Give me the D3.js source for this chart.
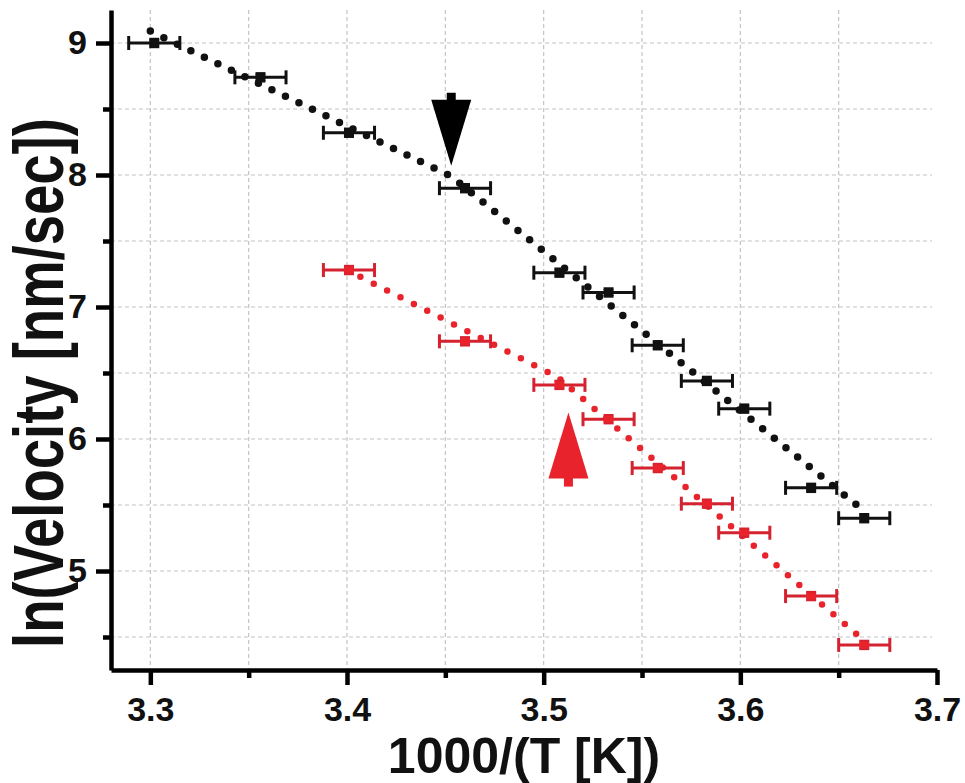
<!DOCTYPE html>
<html>
<head>
<meta charset="utf-8">
<script src="https://cdn.jsdelivr.net/npm/d3@7"></script>
<style>
  html, body { margin: 0; padding: 0; background: #fff; }
  svg { display: block; }
</style>
</head>
<body>
<svg id="chart" width="965" height="783"></svg>
<script>
// ---------------- data ----------------
const blackX = [3.302, 3.356, 3.401, 3.460, 3.508, 3.533, 3.558, 3.583, 3.602, 3.636, 3.663];
const blackY = [9.00, 8.74, 8.32, 7.90, 7.26, 7.11, 6.71, 6.44, 6.23, 5.63, 5.40];
const redX   = [3.401, 3.460, 3.508, 3.533, 3.558, 3.583, 3.602, 3.636, 3.663];
const redY   = [7.28, 6.74, 6.41, 6.15, 5.78, 5.51, 5.29, 4.81, 4.44];
const xErr = 0.013;
const yErr = 0.03;

// piecewise fit lines (dotted)
const blackFitX = [3.300, 3.453, 3.660];
const blackFitY = [9.09, 7.99, 5.49];
const redFitX   = [3.400, 3.507, 3.660];
const redFitY   = [7.28, 6.47, 4.51];

// break-point arrows
const arrowX    = [3.453, 3.5126];
const arrowTipY = [8.07, 6.20];
const arrowDir  = ["down", "up"];

// axes
const xMajorTicks = [3.3, 3.4, 3.5, 3.6, 3.7];
const xMinorTicks = [3.35, 3.45, 3.55, 3.65];
const yMajorTicks = [5, 6, 7, 8, 9];
const yMinorTicks = [4.5, 5.5, 6.5, 7.5, 8.5];
const xGrid = [3.3, 3.35, 3.4, 3.45, 3.5, 3.55, 3.6, 3.65];
const yGrid = [4.5, 5, 5.5, 6, 6.5, 7, 7.5, 8, 8.5, 9];
const xTitle = "1000/(T [K])";
const yTitle = "ln(Velocity [nm/sec])";

// ---------------- drawing ----------------
const BLACK = "#111111";
const RED = "#e8232c";
const RED_BAR = "#d42230";

const svg = d3.select("#chart");
const x = d3.scaleLinear().domain([3.28, 3.70]).range([111, 937]);
const y = d3.scaleLinear().domain([4.25, 9.25]).range([670, 10]);

// grid
const grid = svg.append("g");
grid.selectAll("line.gx").data(xGrid).join("line")
  .attr("x1", d => x(d)).attr("x2", d => x(d))
  .attr("y1", y(9.25)).attr("y2", y(4.25))
  .attr("stroke", "#c4c4c4").attr("stroke-width", 1.2).attr("stroke-dasharray", "4 3");
grid.selectAll("line.gy").data(yGrid).join("line")
  .attr("x1", x(3.28)).attr("x2", 932)
  .attr("y1", d => y(d)).attr("y2", d => y(d))
  .attr("stroke", "#c4c4c4").attr("stroke-width", 1.2).attr("stroke-dasharray", "4 3");

// dotted fit lines
const line = d3.line().x(d => x(d[0])).y(d => y(d[1]));
svg.append("path")
  .attr("d", line(blackFitX.map((v, i) => [v, blackFitY[i]])))
  .attr("fill", "none").attr("stroke", BLACK).attr("stroke-width", 7.5)
  .attr("stroke-linecap", "round").attr("stroke-dasharray", "0 15");
svg.append("path")
  .attr("d", line(redFitX.map((v, i) => [v, redFitY[i]])))
  .attr("fill", "none").attr("stroke", RED).attr("stroke-width", 6.5)
  .attr("stroke-linecap", "round").attr("stroke-dasharray", "0 15");

// error bars + markers
function drawSeries(xs, ys, barColor, markColor) {
  const g = svg.append("g");
  const pts = xs.map((v, i) => ({x: v, y: ys[i]}));
  const capH = 7, vCapW = 5;
  const p = g.selectAll("g.pt").data(pts).join("g");
  // horizontal bar
  p.append("line")
    .attr("x1", d => x(d.x - xErr)).attr("x2", d => x(d.x + xErr))
    .attr("y1", d => y(d.y)).attr("y2", d => y(d.y))
    .attr("stroke", barColor).attr("stroke-width", 3);
  p.append("line")
    .attr("x1", d => x(d.x - xErr)).attr("x2", d => x(d.x - xErr))
    .attr("y1", d => y(d.y) - capH).attr("y2", d => y(d.y) + capH)
    .attr("stroke", barColor).attr("stroke-width", 3);
  p.append("line")
    .attr("x1", d => x(d.x + xErr)).attr("x2", d => x(d.x + xErr))
    .attr("y1", d => y(d.y) - capH).attr("y2", d => y(d.y) + capH)
    .attr("stroke", barColor).attr("stroke-width", 3);
  // vertical bar
  p.append("line")
    .attr("x1", d => x(d.x)).attr("x2", d => x(d.x))
    .attr("y1", d => y(d.y + yErr)).attr("y2", d => y(d.y - yErr))
    .attr("stroke", barColor).attr("stroke-width", 2.5);
  p.append("line")
    .attr("x1", d => x(d.x) - vCapW).attr("x2", d => x(d.x) + vCapW)
    .attr("y1", d => y(d.y + yErr)).attr("y2", d => y(d.y + yErr))
    .attr("stroke", barColor).attr("stroke-width", 2.5);
  p.append("line")
    .attr("x1", d => x(d.x) - vCapW).attr("x2", d => x(d.x) + vCapW)
    .attr("y1", d => y(d.y - yErr)).attr("y2", d => y(d.y - yErr))
    .attr("stroke", barColor).attr("stroke-width", 2.5);
  // marker
  p.append("rect")
    .attr("x", d => x(d.x) - 5).attr("y", d => y(d.y) - 3.5)
    .attr("width", 10).attr("height", 7)
    .attr("fill", markColor);
}
drawSeries(blackX, blackY, BLACK, BLACK);
drawSeries(redX, redY, RED_BAR, RED);

// arrows
arrowX.forEach((ax, i) => {
  const cx = x(ax), ty = y(arrowTipY[i]);
  const color = arrowDir[i] === "down" ? "#000" : RED;
  const s = arrowDir[i] === "down" ? -1 : 1; // direction of body from tip
  const triLen = 66, halfW = 20, stemLen = 8, stemHalf = 4.5;
  const g = svg.append("g").attr("fill", color);
  g.append("path").attr("d", d3.line()([
    [cx, ty], [cx - halfW, ty + s * triLen], [cx + halfW, ty + s * triLen]
  ]) + "Z");
  const stemStart = ty + s * (triLen - 1);
  g.append("rect")
    .attr("x", cx - stemHalf).attr("width", stemHalf * 2)
    .attr("y", s > 0 ? stemStart : stemStart - stemLen)
    .attr("height", stemLen + 1);
});

// axes
const tickFont = "'Liberation Sans', Arial, sans-serif";
function styleAxis(g) {
  g.select(".domain").attr("stroke", "#000").attr("stroke-width", 4.5);
  g.selectAll(".tick line").attr("stroke", "#000").attr("stroke-width", 4.5);
  g.selectAll(".tick text").attr("fill", "#111").attr("font-size", 34)
    .attr("font-weight", "bold").attr("font-family", tickFont);
}
const xAxis = svg.append("g").attr("transform", `translate(0,${y(4.25)})`)
  .call(d3.axisBottom(x).tickValues(xMajorTicks).tickSize(15).tickSizeOuter(0)
    .tickPadding(12).tickFormat(d3.format(".1f")));
styleAxis(xAxis);
const xAxisMinor = svg.append("g").attr("transform", `translate(0,${y(4.25)})`)
  .call(d3.axisBottom(x).tickValues(xMinorTicks).tickSize(8).tickSizeOuter(0).tickFormat(""));
styleAxis(xAxisMinor);
xAxisMinor.select(".domain").remove();

const yAxis = svg.append("g").attr("transform", `translate(${x(3.28)},0)`)
  .call(d3.axisLeft(y).tickValues(yMajorTicks).tickSize(15).tickSizeOuter(0)
    .tickPadding(9).tickFormat(d3.format("d")));
styleAxis(yAxis);
const yAxisMinor = svg.append("g").attr("transform", `translate(${x(3.28)},0)`)
  .call(d3.axisLeft(y).tickValues(yMinorTicks).tickSize(8).tickSizeOuter(0).tickFormat(""));
styleAxis(yAxisMinor);
yAxisMinor.select(".domain").remove();

// titles
svg.append("text")
  .attr("x", (x(3.28) + x(3.70)) / 2).attr("y", 773)
  .attr("text-anchor", "middle")
  .attr("font-family", tickFont).attr("font-weight", "bold").attr("font-size", 50)
  .attr("fill", "#111")
  .text(xTitle);

svg.append("text")
  .attr("transform", "translate(63,383) rotate(-90) scale(1,1.28)")
  .attr("text-anchor", "middle")
  .attr("font-family", tickFont).attr("font-weight", "bold").attr("font-size", 54.5)
  .attr("fill", "#111")
  .text(yTitle);
</script>
</body>
</html>
